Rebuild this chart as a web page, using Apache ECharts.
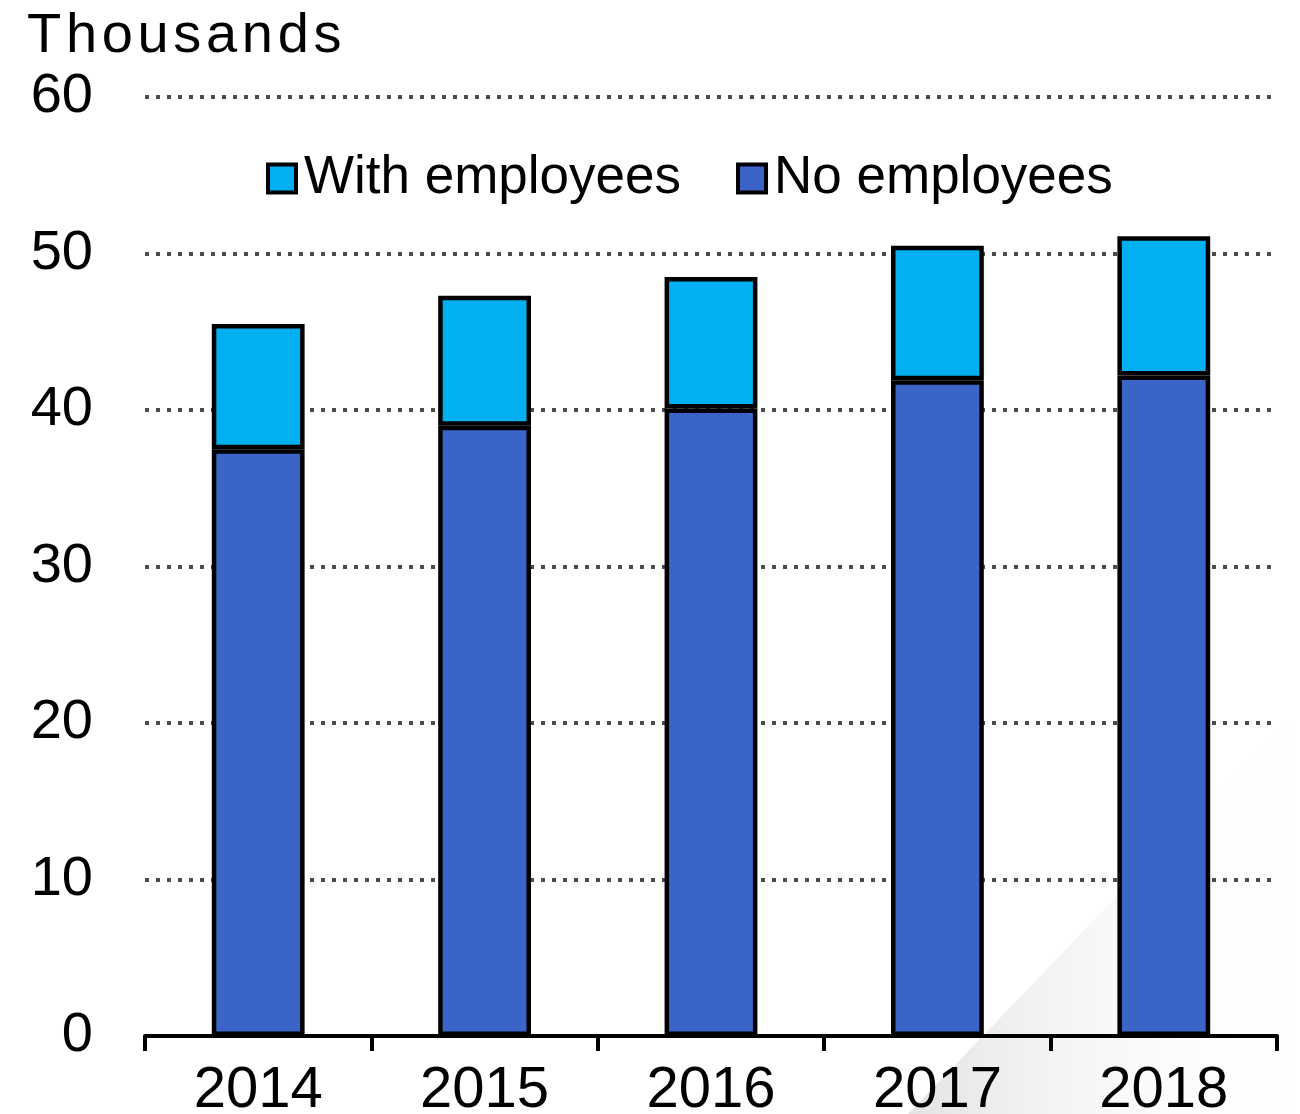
<!DOCTYPE html>
<html>
<head>
<meta charset="utf-8">
<style>
  html, body { margin: 0; padding: 0; background: #ffffff; }
  #chart { width: 1300px; height: 1114px; }
</style>
<script src="https://cdn.jsdelivr.net/npm/echarts@6/dist/echarts.min.js"></script>
</head>
<body>
<div id="chart"></div>
<script>
// Firms by year, in thousands
var years = ['2014', '2015', '2016', '2017', '2018'];
var noEmployees = [37.5, 39.0, 40.1, 41.9, 42.2];
var withEmployees = [8.0, 8.3, 8.4, 8.6, 8.9];
var yTicks = { min: 0, max: 60, step: 10 };

var chart = echarts.init(document.getElementById('chart'), null, { renderer: 'canvas' });

var font = '"Liberation Sans", Arial, sans-serif';

// unit caption, drawn with a hair space between letters for a looser set
var unitCaption = 'Thousands'.split('').join('\u200A');

chart.setOption({
  backgroundColor: '#ffffff',
  animation: false,
  title: {
    text: unitCaption,
    left: 22,
    top: 4,
    textStyle: { fontFamily: font, fontSize: 56, fontWeight: 'normal', color: '#000' }
  },
  legend: {
    left: 261,
    top: 147,
    itemWidth: 28,
    itemHeight: 28,
    itemGap: 55,
    icon: 'rect',
    textStyle: { fontFamily: font, fontSize: 53, color: '#000', padding: [0, 0, 0, 3] },
    data: [
      { name: 'With employees', itemStyle: { color: '#00B0F0', borderColor: '#000', borderWidth: 4 } },
      { name: 'No employees', itemStyle: { color: '#3A64C8', borderColor: '#000', borderWidth: 4 } }
    ]
  },
  graphic: [{
    type: 'polygon',
    z: -10,
    silent: true,
    shape: { points: [[908, 1114], [1300, 705], [1300, 1114]] },
    style: {
      fill: new echarts.graphic.LinearGradient(0, 0, 1, 0, [
        { offset: 0, color: 'rgba(200,200,200,0.5)' },
        { offset: 0.55, color: 'rgba(235,235,235,0.3)' },
        { offset: 1, color: 'rgba(255,255,255,0)' }
      ])
    }
  }],
  grid: { left: 145, right: 23, top: 97, bottom: 78, containLabel: false, outerBoundsMode: 'none' },
  xAxis: {
    type: 'category',
    data: years,
    boundaryGap: true,
    axisLine: { show: true, lineStyle: { color: '#000', width: 4 } },
    axisTick: { show: true, length: 15, lineStyle: { color: '#000', width: 4 } },
    axisLabel: { fontFamily: font, fontSize: 58, color: '#000', margin: 26 }
  },
  yAxis: {
    type: 'value',
    min: yTicks.min,
    max: yTicks.max,
    interval: yTicks.step,
    axisLine: { show: false },
    axisTick: { show: false },
    axisLabel: { fontFamily: font, fontSize: 56, color: '#000', margin: 52 },
    splitLine: { lineStyle: { color: '#4a4a4a', width: 4, type: [4, 7] } }
  },
  series: [
    {
      name: 'No employees',
      type: 'bar',
      stack: 'firms',
      data: noEmployees,
      barWidth: '41%',
      itemStyle: { color: '#3A64C8', borderColor: '#000', borderWidth: 4.5 }
    },
    {
      name: 'With employees',
      type: 'bar',
      stack: 'firms',
      data: withEmployees,
      barWidth: '41%',
      itemStyle: { color: '#00B0F0', borderColor: '#000', borderWidth: 4.5 }
    }
  ]
});
</script>
</body>
</html>
